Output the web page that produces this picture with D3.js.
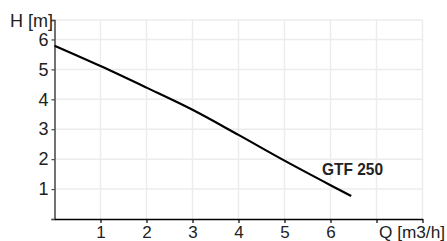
<!DOCTYPE html>
<html>
<head>
<meta charset="utf-8">
<script src="https://cdn.jsdelivr.net/npm/d3@7"></script>
<style>
  body { margin: 0; background: #fff; }
  text { font-family: "Liberation Sans", Arial, sans-serif; fill: #222; }
</style>
</head>
<body>
<div id="chart"></div>
<script>
var flow = [0, 1, 2, 3, 4, 5, 6, 6.45];
var head = [5.79, 5.11, 4.39, 3.65, 2.81, 1.95, 1.13, 0.77];
var xTicks = [1, 2, 3, 4, 5, 6, 7, 8];
var xLabels = ["1", "2", "3", "4", "5", "6", "", ""];
var yTicks = [0, 1, 2, 3, 4, 5, 6];
var yLabels = ["", "1", "2", "3", "4", "5", "6"];
var seriesName = "GTF 250";

var width = 447, height = 241;
var x = d3.scaleLinear().domain([0, 8]).range([54.5, 422.5]);
var y = d3.scaleLinear().domain([0, 6.65]).range([219, 20]);

var svg = d3.select('#chart')
   .append('svg')
   .attr('width', width)
   .attr('height', height);

// grid
var grid = svg.append('g').attr('class', 'grid');
grid.selectAll('line.v')
   .data(xTicks)
   .enter()
   .append('line')
   .attr('x1', function(d) { return x(d); })
   .attr('x2', function(d) { return x(d); })
   .attr('y1', y(6.65))
   .attr('y2', y(0))
   .attr('stroke', '#ececec')
   .attr('stroke-width', 1.5);
grid.selectAll('line.h')
   .data(yTicks.slice(1).concat([6.65]))
   .enter()
   .append('line')
   .attr('x1', x(0))
   .attr('x2', x(8))
   .attr('y1', function(d) { return y(d); })
   .attr('y2', function(d) { return y(d); })
   .attr('stroke', '#ececec')
   .attr('stroke-width', 1.5);

// axes
var yAxis = svg.append('g')
   .attr('transform', 'translate(' + x(0) + ',0)')
   .call(d3.axisLeft(y)
      .tickValues(yTicks.concat([6.65]))
      .tickSize(3)
      .tickPadding(3)
      .tickFormat(function(d, i) { return yLabels[i] || ""; }));
yAxis.select('.domain').attr('stroke', '#444').attr('stroke-width', 1.5);
yAxis.selectAll('.tick line').attr('stroke', '#444').attr('stroke-width', 1.2);
yAxis.selectAll('.tick text')
   .attr('font-size', 18)
   .attr('font-family', '"Liberation Sans", Arial, sans-serif')
   .attr('fill', '#222');

var xAxis = svg.append('g')
   .attr('transform', 'translate(0,' + y(0) + ')')
   .call(d3.axisBottom(x)
      .tickValues(xTicks)
      .tickSize(4)
      .tickPadding(2.5)
      .tickSizeOuter(0)
      .tickFormat(function(d, i) { return xLabels[i]; }));
xAxis.select('.domain').attr('stroke', '#000').attr('stroke-width', 1.5);
xAxis.selectAll('.tick line').attr('stroke', '#000').attr('stroke-width', 1.2);
xAxis.selectAll('.tick text')
   .attr('font-size', 17)
   .attr('font-family', '"Liberation Sans", Arial, sans-serif')
   .attr('fill', '#222');

// axis titles
svg.append('text')
   .attr('x', 10)
   .attr('y', 27)
   .attr('font-size', 18)
   .attr('textLength', 43)
   .attr('lengthAdjust', 'spacingAndGlyphs')
   .text('H [m]');

svg.append('text')
   .attr('x', 379)
   .attr('y', 237.5)
   .attr('font-size', 17)
   .attr('textLength', 66)
   .attr('lengthAdjust', 'spacingAndGlyphs')
   .text('Q [m3/h]');

// curve
var line = d3.line()
   .x(function(d) { return x(d[0]); })
   .y(function(d) { return y(d[1]); })
   .curve(d3.curveCatmullRom);

svg.append('path')
   .datum(d3.zip(flow, head))
   .attr('d', line)
   .attr('fill', 'none')
   .attr('stroke', '#000')
   .attr('stroke-width', 2.2);

svg.append('text')
   .attr('x', 322)
   .attr('y', 174.5)
   .attr('font-size', 17)
   .attr('font-weight', 'bold')
   .attr('textLength', 61)
   .attr('lengthAdjust', 'spacingAndGlyphs')
   .attr('fill', '#000')
   .text(seriesName);
</script>
</body>
</html>
